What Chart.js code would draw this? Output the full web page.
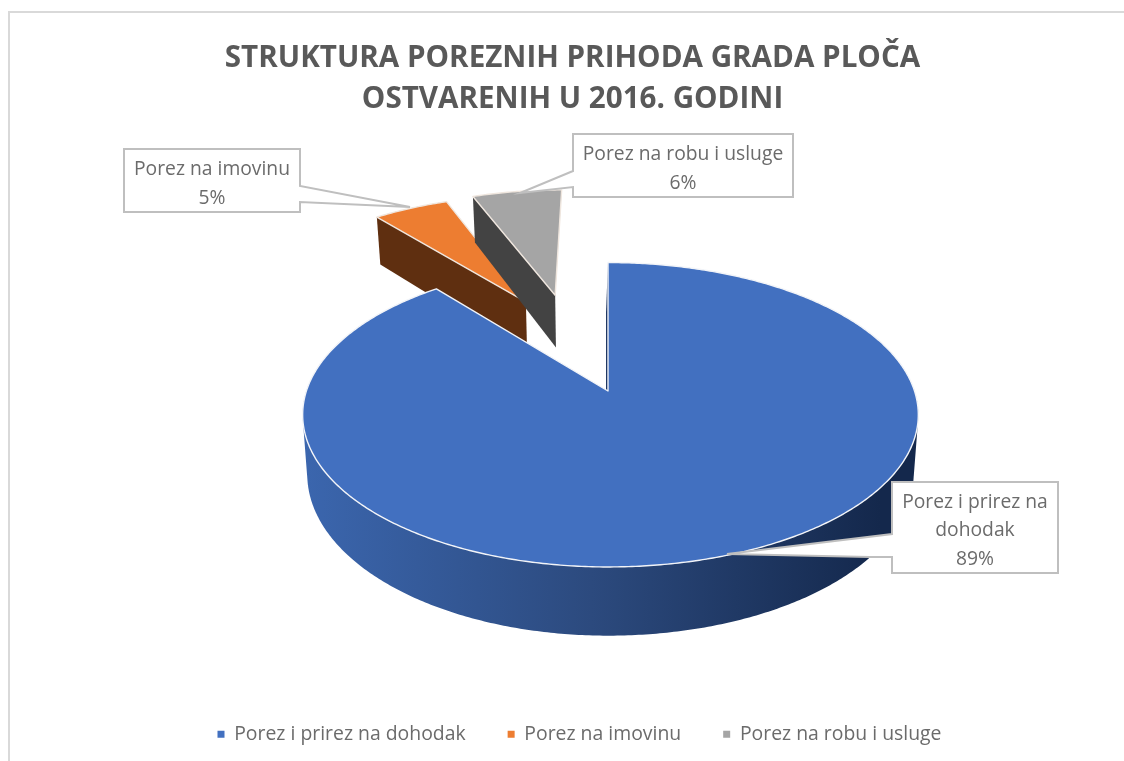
<!DOCTYPE html>
<html>
<head>
<meta charset="utf-8">
<style>
html,body{margin:0;padding:0;background:#fff;overflow:hidden;width:1124px;height:761px}
#wrap{position:absolute;left:0;top:0;width:1145px;height:761px}
canvas{filter:blur(0.5px)}
</style>
<script src="https://cdn.jsdelivr.net/npm/chart.js@4"></script>
</head>
<body>
<div id="wrap"><canvas id="c" width="1145" height="761"></canvas></div>
<script>
const categories = ['Porez i prirez na dohodak', 'Porez na imovinu', 'Porez na robu i usluge'];
const shares = [89, 5, 6];
const titleLines = ['STRUKTURA POREZNIH PRIHODA GRADA PLOČA', 'OSTVARENIH U 2016. GODINI'];
const calloutLines = [['Porez i prirez na', 'dohodak'], ['Porez na imovinu'], ['Porez na robu i usluge']];
const topColors = ['#4270C0', '#ED7D31', '#A5A5A5'];
const wallColors = ['#2c4878', '#5F2F10', '#434343'];
const TEXT = '#6b6b6b';
const FONT = '"Open Sans", "Noto Sans", sans-serif';

// projection of the unit disc to the page (tilted view with perspective)
const view = {cx: 608, cy: 391, aLeft: 301.6, aRight: 306.5, b: 148.5, k: 0.156, depth: 58, taper: 0.015};
// how far each slice is pulled out of the pie, as a share of radius, and direction nudge (deg)
const explode = [0, 0.727, 0.743];
const nudge = [0, 6.2, -4.4];
const callouts = [
  {box: [892, 482, 1058, 573], leader: [[892, 534], [727, 554], [870, 557], [892, 557]]},
  {box: [124, 149, 300, 212], leader: [[300, 186], [410, 207], [300, 202]]},
  {box: [573, 134, 793, 197], leader: [[573, 171], [520, 193], [573, 187]]}
];

function project(x, y, z) {
  const den = 1 - view.k * y;
  const a = x < 0 ? view.aLeft : view.aRight;
  const zz = z || 0;
  return [view.cx + a * x * (1 - view.taper * zz) / den, view.cy + (view.b * y + view.depth * zz) / den];
}
function trace(ctx, pts) {
  ctx.beginPath();
  pts.forEach((p, i) => i ? ctx.lineTo(p[0], p[1]) : ctx.moveTo(p[0], p[1]));
  ctx.closePath();
}
function addQuad(ctx, quad) {
  let area = 0;
  quad.forEach((p, i) => {
    const q = quad[(i + 1) % quad.length];
    area += p[0] * q[1] - q[0] * p[1];
  });
  const pts = area < 0 ? quad.slice().reverse() : quad;
  pts.forEach((p, i) => i ? ctx.lineTo(p[0], p[1]) : ctx.moveTo(p[0], p[1]));
  ctx.closePath();
}
function sliceGeom(el, i) {
  const s = el.startAngle, e = el.endAngle;
  const dir = (s + e) / 2 + nudge[i] * Math.PI / 180;
  const ox = Math.cos(dir) * explode[i], oy = Math.sin(dir) * explode[i];
  const n = Math.max(8, Math.ceil((e - s) / 0.01));
  const rim = [];
  for (let t = 0; t <= n; t++) {
    const ang = s + (e - s) * t / n;
    rim.push([ox + Math.cos(ang), oy + Math.sin(ang)]);
  }
  return {apex: [ox, oy], rim};
}

const pie3d = {
  id: 'pie3d',
  afterLayout(chart) {
    chart.legend.left += 7;
    chart.legend.right += 7;
  },
  beforeDraw(chart) {
    const c = chart.ctx;
    c.save();
    c.fillStyle = '#fff';
    c.fillRect(0, 0, chart.width, chart.height);
    c.strokeStyle = '#d9d9d9';
    c.lineWidth = 2;
    c.beginPath();
    c.moveTo(9, 761);
    c.lineTo(9, 12);
    c.lineTo(1145, 12);
    c.stroke();
    c.restore();
  },
  beforeDatasetDraw(chart, args) {
    const c = chart.ctx;
    const arcs = args.meta.data;
    const order = [1, 2, 0];
    order.forEach(i => {
      const g = sliceGeom(arcs[i], i);
      const top = g.rim.map(p => project(p[0], p[1], 0));
      const bot = g.rim.map(p => project(p[0], p[1], 1));
      const a0 = project(g.apex[0], g.apex[1], 0);
      const a1 = project(g.apex[0], g.apex[1], 1);
      c.save();
      if (i === 0) {
        const gr = c.createLinearGradient(303, 0, 880, 0);
        gr.addColorStop(0, '#3b66ae');
        gr.addColorStop(0.5, '#2c4a7e');
        gr.addColorStop(1, '#14284c');
        c.fillStyle = gr;
        // outer wall: swept quads gathered into one path, only where it faces the viewer
        c.beginPath();
        for (let k = 0; k < top.length - 1; k++) {
          if (g.rim[k][1] < -0.05) continue;
          addQuad(c, [top[k], top[k + 1], bot[k + 1], bot[k]]);
        }
        c.fill();
        // slim cut face seen nearly edge-on at the gap
        trace(c, [top[0], a0, [a1[0] - 2, a1[1]], [bot[0][0] - 2, bot[0][1]]]);
        c.fillStyle = '#1f3864';
        c.fill();
      } else {
        trace(c, [top[0], a0, a1, bot[0]]);
        c.fillStyle = wallColors[i];
        c.fill();
      }
      // top face
      trace(c, top.concat([a0]));
      c.fillStyle = topColors[i];
      c.fill();
      c.strokeStyle = i === 0 ? '#f2f4f8' : '#efe6de';
      c.lineWidth = 1.4;
      c.lineJoin = 'round';
      c.stroke();
      c.restore();
    });
    return false;
  },
  afterDatasetsDraw(chart) {
    const c = chart.ctx;
    const total = shares.reduce((a, b) => a + b, 0);
    c.save();
    callouts.forEach((co, i) => {
      const [l, t, r, b] = co.box;
      c.beginPath();
      if (co.leader[0][0] === r) {
        c.moveTo(l, t); c.lineTo(r, t);
        co.leader.forEach(p => c.lineTo(p[0], p[1]));
        c.lineTo(r, b); c.lineTo(l, b);
      } else {
        c.moveTo(r, t); c.lineTo(l, t);
        co.leader.forEach(p => c.lineTo(p[0], p[1]));
        c.lineTo(l, b); c.lineTo(r, b);
      }
      c.closePath();
      c.fillStyle = '#fff';
      c.fill();
      c.strokeStyle = '#bfbfbf';
      c.lineWidth = 2;
      c.stroke();
      const lines = calloutLines[i].concat([Math.round(shares[i] / total * 100) + '%']);
      c.fillStyle = TEXT;
      c.font = '19.3px ' + FONT;
      c.textAlign = 'center';
      c.textBaseline = 'middle';
      const lh = 28.5;
      const my = (t + b) / 2 + 3.5;
      lines.forEach((s, k) => c.fillText(s, (l + r) / 2, my + (k - (lines.length - 1) / 2) * lh));
    });
    c.restore();
  }
};

new Chart(document.getElementById('c'), {
  type: 'pie',
  data: {
    labels: categories,
    datasets: [{data: shares, backgroundColor: topColors, borderWidth: 0}]
  },
  plugins: [pie3d],
  options: {
    responsive: false,
    animation: false,
    layout: {padding: {top: 38, bottom: 7}},
    plugins: {
      tooltip: {enabled: false},
      title: {
        display: true,
        text: titleLines,
        color: '#595959',
        font: {family: FONT, size: 29.6, weight: 'bold', lineHeight: 1.38},
        padding: {top: 0, bottom: 10}
      },
      legend: {
        display: true,
        position: 'bottom',
        labels: {
          boxWidth: 7, boxHeight: 7, padding: 42,
          color: TEXT,
          font: {family: FONT, size: 19.4}
        }
      }
    }
  }
});
</script>
</body>
</html>
